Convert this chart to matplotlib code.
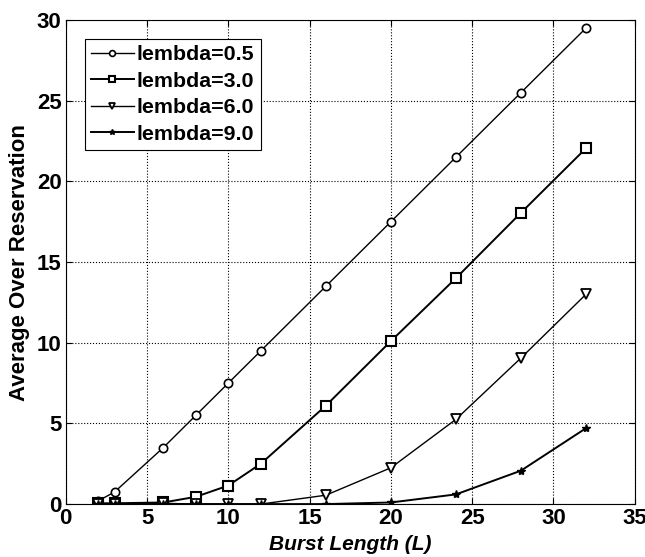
import matplotlib.pyplot as plt
import numpy as np

plt.rcParams.update({
    "font.family": ["Liberation Sans", "DejaVu Sans"],
    "font.weight": "bold",
    "axes.labelweight": "bold",
    "xtick.direction": "in",
    "ytick.direction": "in",
})

# Burst length values and average over-reservation per arrival rate
burst_len = [2, 3, 6, 8, 10, 12, 16, 20, 24, 28, 32]
lam_05 = [0.2, 0.75, 3.5, 5.5, 7.5, 9.5, 13.5, 17.5, 21.5, 25.5, 29.5]
lam_30 = [0.05, 0.05, 0.1, 0.45, 1.15, 2.5, 6.1, 10.1, 14.0, 18.05, 22.05]
lam_60 = [0.0, 0.0, 0.05, 0.0, 0.0, 0.0, 0.55, 2.25, 5.25, 9.05, 13.0]
lam_90 = [0.0, 0.0, 0.0, 0.0, 0.0, 0.0, 0.0, 0.1, 0.6, 2.07, 4.7]

labels = ["lembda=0.5", "lembda=3.0", "lembda=6.0", "lembda=9.0"]

fig = plt.figure(figsize=(6.45, 5.57), dpi=100)
ax = fig.add_axes([0.102, 0.095, 0.882, 0.869])

ax.plot(burst_len, lam_05, "k-", marker="o", mfc="white", ms=6, mew=1.2, lw=1, label=labels[0])
ax.plot(burst_len, lam_30, "k-", marker="s", mfc="white", ms=7, mew=1.5, lw=1.4, label=labels[1])
ax.plot(burst_len, lam_60, "k-", marker="v", mfc="white", ms=7, mew=1.3, lw=1, label=labels[2])
ax.plot(burst_len, lam_90, "k-", marker="*", mfc="black", ms=6, lw=1.4, label=labels[3])

ax.set_xlim(0, 35)
ax.set_ylim(0, 30)
ax.set_xticks(np.arange(0, 36, 5))
ax.set_yticks(np.arange(0, 31, 5))
ax.tick_params(labelsize=16, top=True, right=True, length=4, pad=3)
ax.grid(True, color="black", linestyle=":", linewidth=0.8)

ax.set_xlabel("Burst Length (L)", fontsize=15, style="italic", labelpad=4)
ax.set_ylabel("Average Over Reservation", fontsize=16, labelpad=5)

leg = ax.legend(loc="upper left", bbox_to_anchor=(0.033, 0.961), fontsize=15.4,
                fancybox=False, framealpha=1, edgecolor="black",
                handlelength=2.0, handletextpad=0.15, borderpad=0.3,
                labelspacing=0.35, markerscale=0.7, borderaxespad=0)
leg.get_frame().set_linewidth(0.8)

fig.savefig("out.png", dpi=100)
